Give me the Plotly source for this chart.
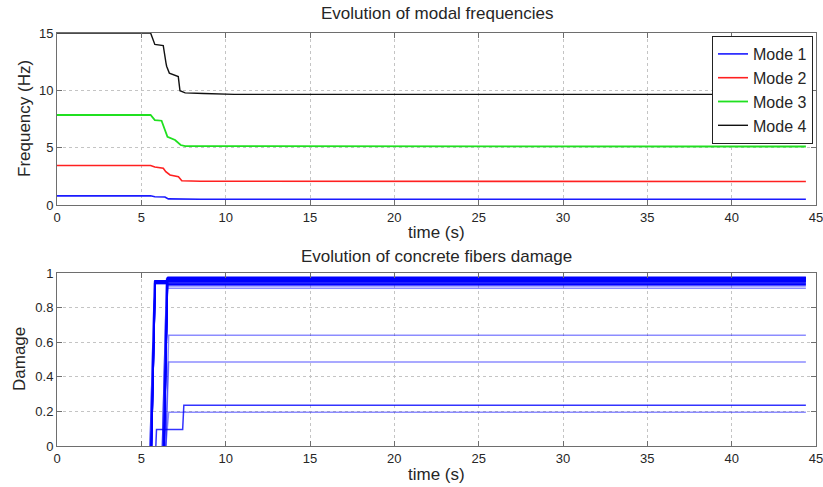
import plotly.graph_objects as go

# ---------------- data ----------------
x_ticks = [0, 5, 10, 15, 20, 25, 30, 35, 40, 45]
freq_ticks = [0, 5, 10, 15]
dmg_ticks = [0, 0.2, 0.4, 0.6, 0.8, 1]
dmg_tick_labels = ["0", "0.2", "0.4", "0.6", "0.8", "1"]

mode_names = ["Mode 1", "Mode 2", "Mode 3", "Mode 4"]

mode1_t = [0, 5.55, 5.8, 6.4, 6.6, 7.3, 8.5, 44.4]
mode1_f = [0.8, 0.8, 0.72, 0.7, 0.53, 0.5, 0.5, 0.5]

mode2_t = [0, 5.55, 5.8, 6.3, 6.45, 6.7, 7.2, 7.4, 8.5, 44.4]
mode2_f = [3.45, 3.45, 3.32, 3.2, 2.9, 2.62, 2.47, 2.12, 2.07, 2.05]

mode3_t = [0, 5.55, 5.8, 6.2, 6.4, 6.55, 7.0, 7.33, 7.6, 44.4]
mode3_f = [7.85, 7.85, 7.41, 7.35, 6.54, 5.95, 5.67, 5.23, 5.14, 5.1]

mode4_t = [0, 5.55, 5.8, 6.3, 6.46, 6.5, 6.66, 7.19, 7.29, 7.6, 8.7, 10.5, 44.4]
mode4_f = [15, 15, 14.0, 13.9, 12.4, 12.1, 11.5, 11.2, 9.97, 9.78, 9.72, 9.65, 9.65]

# damage fibers (time from first damage onwards)
fiberA_t = [5.6, 5.82, 6.5, 6.58, 44.4]
fiberA_vals = [
    [0, 0.955, 0.955, 0.975, 0.975],
    [0, 0.95, 0.95, 0.97, 0.97],
    [0, 0.945, 0.945, 0.965, 0.965],
    [0, 0.94, 0.94, 0.96, 0.96],
    [0, 0.955, 0.955, 0.955, 0.955],
]
fiberA2_t = [5.52, 5.78, 44.4]
fiberA2_vals = [
    [0, 0.95, 0.95],
    [0, 0.94, 0.94],
]
fiberB_t = [6.35, 6.55, 44.4]
fiberB_vals = [
    [0, 0.972, 0.972],
    [0, 0.962, 0.962],
    [0, 0.952, 0.952],
    [0, 0.942, 0.942],
    [0, 0.932, 0.932],
]
fiberB2_t = [6.25, 6.5, 44.4]
fiberB2_vals = [
    [0, 0.968, 0.968],
    [0, 0.958, 0.958],
]
fiberB_light_vals = [
    [0, 0.925, 0.925],
    [0, 0.912, 0.912],
]
fiberC_t = [6.45, 6.62, 44.4]
fiberC_vals = [
    [0, 0.64, 0.64],
    [0, 0.485, 0.485],
    [0, 0.195, 0.195],
]
fiberD_t = [5.86, 5.9, 7.45, 7.52, 44.4]
fiberD_vals = [0, 0.096, 0.096, 0.236, 0.236]

# ---------------- figure ----------------
W, H = 823, 487
L, R, T, B = 57, 816, 33, 446
ML, MR, MT, MB = L, W - R, T, H - B
PW, PH = R - L, B - T


def ydom(top_px, bot_px):
    return [(B - bot_px) / PH, (B - top_px) / PH]


def ypaper(pxv):
    return (B - pxv) / PH


def xpaper(pxv):
    return (pxv - L) / PW


font_family = "Liberation Sans, Arial, Helvetica, sans-serif"
txt = "#262626"

fig = go.Figure()

mode_colors = ["#1a1aff", "#ff2020", "#20e020", "#111111"]
mode_widths = [1.6, 1.6, 1.8, 1.4]
for name, t, f, c, w in zip(mode_names,
                            [mode1_t, mode2_t, mode3_t, mode4_t],
                            [mode1_f, mode2_f, mode3_f, mode4_f],
                            mode_colors, mode_widths):
    fig.add_trace(go.Scatter(x=t, y=f, mode="lines", name=name,
                             line=dict(color=c, width=w),
                             xaxis="x", yaxis="y"))

dcol = "rgba(0,0,255,1)"
dlight = "rgba(0,0,255,0.45)"


def add_fibers(tt, vals, color, width):
    for v in vals:
        fig.add_trace(go.Scatter(x=tt, y=v, mode="lines", showlegend=False,
                                 line=dict(color=color, width=width),
                                 xaxis="x2", yaxis="y2"))


add_fibers(fiberA2_t, fiberA2_vals, "rgba(0,0,255,0.6)", 1.5)
add_fibers(fiberB2_t, fiberB2_vals, "rgba(0,0,255,0.6)", 1.5)
add_fibers(fiberA_t, fiberA_vals, dcol, 1.6)
add_fibers(fiberB_t, fiberB_vals, dcol, 1.6)
add_fibers(fiberB_t, fiberB_light_vals, dlight, 1.4)
add_fibers(fiberC_t, fiberC_vals, dlight, 1.5)
add_fibers(fiberD_t, [fiberD_vals], "rgba(0,0,255,0.8)", 1.5)

axis_common = dict(
    showline=True, linecolor="#6e6e6e", linewidth=1, mirror="ticks",
    ticks="inside", ticklen=5, tickcolor="#6e6e6e",
    showgrid=True, gridcolor="#c4c4c4", griddash="dot", gridwidth=1,
    zeroline=False, automargin=False, ticklabeloverflow="allow",
    tickfont=dict(size=13, color=txt, family=font_family),
)


def label(text, xp, yp, angle=0):
    return dict(text=text, x=xpaper(xp), y=ypaper(yp), xref="paper", yref="paper",
                xanchor="center", yanchor="middle", textangle=angle,
                showarrow=False, font=dict(size=17, color=txt))


fig.update_layout(
    width=W, height=H,
    margin=dict(l=ML, r=MR, t=MT, b=MB, pad=0, autoexpand=False),
    paper_bgcolor="white", plot_bgcolor="white",
    font=dict(family=font_family, color=txt),
    showlegend=True,
    legend=dict(x=xpaper(813), y=ypaper(36), xanchor="right", yanchor="top",
                bordercolor="#222", borderwidth=1, bgcolor="white",
                font=dict(size=16, color=txt), tracegroupgap=0,
                itemwidth=30),
    xaxis=dict(domain=[0, 1], range=[0, 45], tickvals=x_ticks, anchor="y",
               **axis_common),
    yaxis=dict(domain=ydom(33, 205), range=[0, 15], tickvals=freq_ticks, anchor="x",
               **axis_common),
    xaxis2=dict(domain=[0, 1], range=[0, 45], tickvals=x_ticks, anchor="y2",
                **axis_common),
    yaxis2=dict(domain=ydom(273, 446), range=[0, 1], tickvals=dmg_ticks,
                ticktext=dmg_tick_labels, anchor="x2",
                **axis_common),
    annotations=[
        label("Evolution of modal frequencies", 436.5, 14),
        label("Evolution of concrete fibers damage", 436.5, 256),
        label("time (s)", 436.5, 232),
        label("time (s)", 436.5, 474),
        label("Frequency (Hz)", 25, 119, -90),
        label("Damage", 19, 359, -90),
    ],
)

fig.write_html("out.html", config={"displayModeBar": False},
               post_script="document.body.style.margin='0px';document.body.style.padding='0px';")
